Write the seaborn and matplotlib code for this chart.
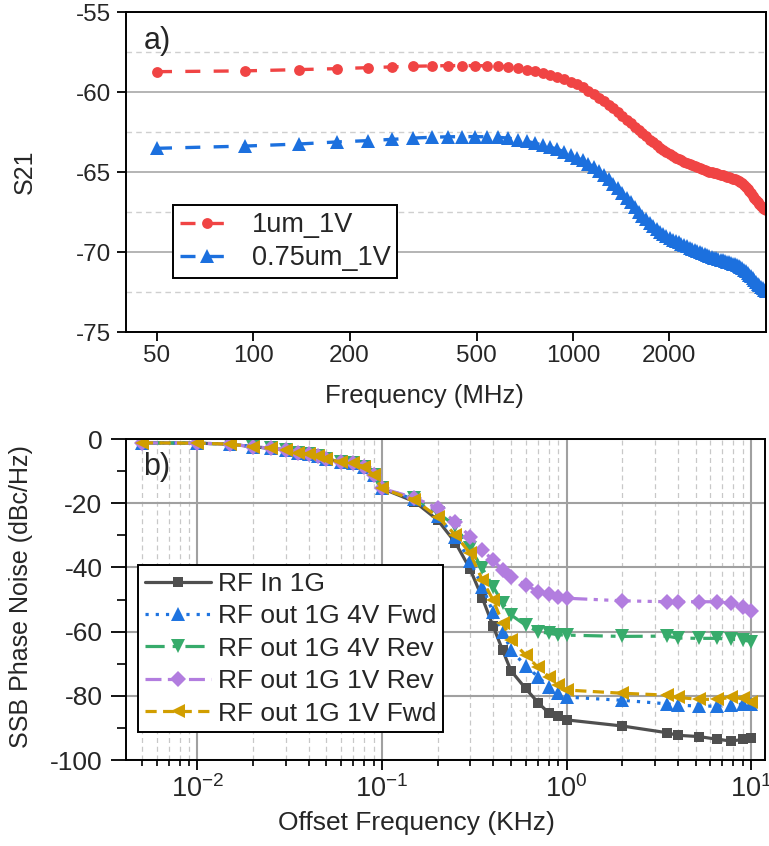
import numpy as np
import pandas as pd
import matplotlib
matplotlib.use("Agg")
import matplotlib.pyplot as plt
import seaborn as sns
from matplotlib.ticker import FixedLocator, NullFormatter, LogLocator

# ---------------- data: panel a) ----------------
freq_mhz = [50, 94, 139, 183, 228, 272, 316, 361, 405, 449,
            494, 538, 583, 627, 671, 716, 760, 804, 849, 893,
            938, 982, 1026, 1071, 1115, 1160, 1204, 1248, 1293, 1337,
            1381, 1426, 1470, 1515, 1559, 1603, 1648, 1692, 1736, 1781,
            1825, 1870, 1914, 1958, 2003, 2047, 2092, 2136, 2180, 2225,
            2269, 2313, 2358, 2402, 2447, 2491, 2535, 2580, 2624, 2668,
            2713, 2757, 2802, 2846, 2890, 2935, 2979, 3023, 3068, 3112,
            3157, 3201, 3245, 3290, 3334, 3379, 3423, 3467, 3512, 3556,
            3600, 3645, 3689, 3734, 3778, 3822, 3867, 3911, 3955, 4000]
s21_1um = [-58.73, -58.68, -58.60, -58.54, -58.48, -58.43, -58.39, -58.37, -58.35, -58.35,
           -58.35, -58.36, -58.38, -58.43, -58.51, -58.60, -58.70, -58.81, -58.93, -59.05,
           -59.20, -59.37, -59.53, -59.70, -59.92, -60.13, -60.35, -60.58, -60.80, -61.03,
           -61.27, -61.50, -61.73, -61.96, -62.18, -62.38, -62.58, -62.78, -62.97, -63.15,
           -63.32, -63.48, -63.63, -63.77, -63.90, -64.00, -64.10, -64.19, -64.27, -64.35,
           -64.43, -64.50, -64.57, -64.64, -64.70, -64.76, -64.82, -64.87, -64.92, -64.97,
           -65.01, -65.05, -65.09, -65.13, -65.17, -65.21, -65.25, -65.29, -65.33, -65.37,
           -65.41, -65.45, -65.50, -65.56, -65.63, -65.71, -65.81, -65.92, -66.05, -66.19,
           -66.33, -66.48, -66.62, -66.76, -66.89, -67.01, -67.12, -67.22, -67.31, -67.40]
s21_075um = [-63.52, -63.38, -63.25, -63.12, -63.04, -62.96, -62.88, -62.83, -62.80, -62.79,
             -62.79, -62.80, -62.83, -62.88, -62.97, -63.08, -63.20, -63.32, -63.45, -63.58,
             -63.74, -63.92, -64.10, -64.28, -64.47, -64.70, -64.95, -65.20, -65.45, -65.72,
             -66.00, -66.30, -66.60, -66.90, -67.20, -67.47, -67.72, -67.95, -68.17, -68.37,
             -68.55, -68.72, -68.87, -69.00, -69.12, -69.22, -69.31, -69.40, -69.48, -69.56,
             -69.64, -69.72, -69.80, -69.87, -69.94, -70.01, -70.07, -70.13, -70.19, -70.25,
             -70.30, -70.35, -70.40, -70.44, -70.48, -70.52, -70.56, -70.60, -70.64, -70.68,
             -70.72, -70.77, -70.82, -70.88, -70.95, -71.03, -71.12, -71.21, -71.31, -71.42,
             -71.53, -71.64, -71.75, -71.87, -71.98, -72.09, -72.19, -72.28, -72.36, -72.43]

# ---------------- data: panel b) ----------------
offset_khz = [0.005, 0.01, 0.015, 0.02, 0.025, 0.03, 0.035, 0.04, 0.045, 0.05,
              0.06, 0.07, 0.08, 0.09, 0.1, 0.15, 0.2, 0.25, 0.3, 0.35,
              0.4, 0.45, 0.5, 0.6, 0.7, 0.8, 0.9, 1, 2, 3.5,
              4, 5.2, 6.5, 7.8, 9, 10]
pn_rf_in = [-1.2, -1.3, -1.6, -2.4, -2.9, -3.4, -4.3, -4.7, -5.3, -6.3,
            -7.1, -7.6, -8.6, -11.2, -15.4, -19.5, -25.2, -32.3, -40.5, -49.6,
            -58.3, -65.7, -72.2, -77.7, -82.1, -85.3, -86.2, -87.5, -89.4, -91.5,
            -92.3, -92.7, -93.5, -94.1, -93.6, -93.0]
pn_4v_fwd = [-1.2, -1.3, -1.6, -2.4, -2.9, -3.4, -4.3, -4.7, -5.3, -6.3,
             -7.1, -7.6, -8.6, -11.2, -15.4, -18.8, -24.0, -30.5, -38.0, -46.0,
             -54.0, -60.0, -65.7, -70.7, -74.0, -77.2, -79.2, -80.4, -81.4, -82.5,
             -82.9, -83.2, -83.2, -82.9, -82.6, -82.4]
pn_4v_rev = [-1.2, -1.3, -1.6, -2.4, -2.9, -3.4, -4.3, -4.7, -5.3, -6.3,
             -7.1, -7.6, -8.6, -11.2, -15.4, -18.5, -23.0, -27.0, -34.0, -40.3,
             -46.0, -51.0, -54.8, -58.0, -60.0, -60.5, -61.0, -61.1, -61.5, -61.4,
             -62.0, -62.1, -62.1, -62.4, -62.6, -63.1]
pn_1v_rev = [-1.2, -1.3, -1.6, -2.4, -2.9, -3.4, -4.3, -4.7, -5.3, -6.3,
             -7.1, -7.6, -8.6, -11.2, -15.4, -18.3, -21.5, -25.8, -30.4, -34.6,
             -37.8, -40.7, -42.9, -45.4, -47.6, -48.2, -49.1, -49.6, -50.4, -50.7,
             -50.7, -50.7, -50.7, -51.2, -52.2, -53.5]
pn_1v_fwd = [-1.2, -1.3, -1.6, -2.4, -2.9, -3.4, -4.3, -4.7, -5.3, -6.3,
             -7.1, -7.6, -8.6, -11.2, -15.4, -19.0, -24.2, -29.9, -35.6, -43.9,
             -50.2, -57.2, -62.6, -67.3, -71.1, -74.0, -76.6, -78.2, -79.2, -79.8,
             -80.5, -81.1, -81.1, -80.5, -80.8, -81.8]

top_xticks = [50, 100, 200, 500, 1000, 2000]
top_yticks = [-75, -70, -65, -60, -55]
bot_yticks = [-100, -80, -60, -40, -20, 0]
bot_xticks = [0.01, 0.1, 1, 10]
bot_xticklabels = [r"$10^{-2}$", r"$10^{-1}$", r"$10^{0}$", r"$10^{1}$"]

# ---------------- style ----------------
sns.set_theme(style="white")
plt.rcParams["font.family"] = ["Liberation Sans", "DejaVu Sans"]
plt.rcParams["axes.unicode_minus"] = False
plt.rcParams["mathtext.fontset"] = "custom"
plt.rcParams["mathtext.rm"] = "Liberation Sans"
plt.rcParams["mathtext.it"] = "Liberation Sans"
plt.rcParams["mathtext.default"] = "rm"

fig = plt.figure(figsize=(7.69, 8.46), dpi=100)
W, H = 769, 846
ax1 = fig.add_axes([126 / W, 1 - 332 / H, 640 / W, 320 / H])
ax2 = fig.add_axes([126 / W, 1 - 760 / H, 639 / W, 321 / H])

# ---------------- panel a ----------------
red = "#f04444"
blue = "#1c70de"
df_top = pd.DataFrame({"freq": freq_mhz, "a": s21_1um, "b": s21_075um})
sns.lineplot(data=df_top, x="freq", y="a", ax=ax1, color=red, marker="o",
             markersize=7.8, markeredgecolor=red, markeredgewidth=0,
             linewidth=2.4, linestyle=(0, (4.5, 4)), label="1um_1V")
sns.lineplot(data=df_top, x="freq", y="b", ax=ax1, color=blue, marker="^",
             markersize=9.5, markeredgecolor=blue, markeredgewidth=0,
             linewidth=2.4, linestyle=(0, (4.5, 4)), label="0.75um_1V")
ax1.set_xscale("log")
ax1.set_xlim(40, 4010)
ax1.set_ylim(-75, -55)
ax1.xaxis.set_major_locator(FixedLocator(top_xticks))
ax1.xaxis.set_minor_locator(FixedLocator([]))
ax1.set_xticklabels([str(t) for t in top_xticks])
ax1.yaxis.set_major_locator(FixedLocator(top_yticks))
ax1.set_yticklabels([str(t) for t in top_yticks])
ax1.yaxis.set_minor_locator(FixedLocator([-72.5, -67.5, -62.5, -57.5]))
ax1.yaxis.grid(True, which="major", color="#a8a8a8", linewidth=1.2, linestyle="-")
ax1.yaxis.grid(True, which="minor", color="#cfcfcf", linewidth=1.0, linestyle=(0, (4, 3)))
ax1.xaxis.grid(False)
ax1.tick_params(axis="both", which="major", direction="out", length=6.5, width=1.3,
                color="black", labelsize=17.5, left=True, bottom=True)
ax1.tick_params(axis="y", which="major", pad=4)
ax1.tick_params(axis="x", which="major", pad=3)
ax1.tick_params(axis="y", which="minor", length=0)
ax1.set_xlabel("Frequency (MHz)", fontsize=18.5)
ax1.xaxis.set_label_coords(0.466, -0.163)
ax1.set_ylabel("S21", fontsize=18)
ax1.yaxis.set_label_coords(-0.139, 0.5)
for sp in ax1.spines.values():
    sp.set_color("black")
    sp.set_linewidth(1.4)
ax1.text(0.027, 0.909, "a)", transform=ax1.transAxes, fontsize=22,
         ha="left", va="center")
leg1 = ax1.legend(loc="upper left", bbox_to_anchor=(0.073, 0.397), fontsize=19.5,
                  frameon=True, fancybox=False, framealpha=1, edgecolor="black",
                  handlelength=2.0, borderaxespad=0, borderpad=0.26, labelspacing=0.26,
                  handletextpad=0.65)
leg1.get_frame().set_linewidth(1.4)

# ---------------- panel b ----------------
df_bot = pd.DataFrame({"f": offset_khz, "in": pn_rf_in, "f4": pn_4v_fwd,
                       "r4": pn_4v_rev, "r1": pn_1v_rev, "f1": pn_1v_fwd})
series = [
    ("in", "RF In 1G", "#4f4f4f", "s", 7, "-"),
    ("f4", "RF out 1G 4V Fwd", "#1f74e0", "^", 9.5, (0, (1, 2.2))),
    ("r4", "RF out 1G 4V Rev", "#37ab6b", "v", 9.5, (0, (6, 2.5, 1.5, 2.5))),
    ("r1", "RF out 1G 1V Rev", "#b27ddf", "D", 8, (0, (5, 2, 1.3, 2, 1.3, 2))),
    ("f1", "RF out 1G 1V Fwd", "#d19e00", "<", 9.5, (0, (3.5, 2))),
]
for col, lab, c, m, ms, ls in series:
    sns.lineplot(data=df_bot, x="f", y=col, ax=ax2, color=c, marker=m,
                 markersize=ms, markeredgecolor=c, markeredgewidth=0,
                 linewidth=2.3, linestyle=ls, label=lab)
ax2.set_xscale("log")
ax2.set_xlim(0.0041, 11.9)
ax2.set_ylim(-100, 0)
ax2.xaxis.set_major_locator(FixedLocator(bot_xticks))
ax2.set_xticklabels(bot_xticklabels)
ax2.xaxis.set_minor_locator(LogLocator(base=10, subs=np.arange(2, 10), numticks=20))
ax2.xaxis.set_minor_formatter(NullFormatter())
ax2.yaxis.set_major_locator(FixedLocator(bot_yticks))
ax2.set_yticklabels([str(t) for t in bot_yticks])
ax2.yaxis.set_minor_locator(FixedLocator([-90, -70, -50, -30, -10]))
ax2.grid(True, which="major", color="#a0a0a0", linewidth=1.5, linestyle="-")
ax2.xaxis.grid(True, which="minor", color="#c8c8c8", linewidth=0.9, linestyle=(0, (4, 3)))
ax2.tick_params(axis="y", which="major", direction="out", length=11, width=1.3,
                color="black", labelsize=19, left=True, pad=6)
ax2.tick_params(axis="y", which="minor", direction="out", length=6.5, width=1.2,
                color="black", left=True)
ax2.tick_params(axis="x", which="major", direction="out", length=7, width=1.3,
                color="black", labelsize=19.5, bottom=True, pad=4)
ax2.tick_params(axis="x", which="minor", direction="out", length=4.5, width=1.2,
                color="black", bottom=True)
ax2.set_xlabel("Offset Frequency (KHz)", fontsize=19)
ax2.xaxis.set_label_coords(0.455, -0.158)
ax2.set_ylabel("SSB Phase Noise (dBc/Hz)", fontsize=18)
ax2.yaxis.set_label_coords(-0.146, 0.508)
for sp in ax2.spines.values():
    sp.set_color("black")
    sp.set_linewidth(1.4)
ax2.text(0.027, 0.913, "b)", transform=ax2.transAxes, fontsize=22,
         ha="left", va="center")
leg2 = ax2.legend(loc="upper left", bbox_to_anchor=(0.019, 0.607), fontsize=19,
                  frameon=True, fancybox=False, framealpha=1, edgecolor="black",
                  handlelength=2.5, borderaxespad=0, borderpad=0.25, labelspacing=0.32,
                  handletextpad=0.27)
leg2.get_frame().set_linewidth(1.4)

fig.savefig("out.png", dpi=100)
